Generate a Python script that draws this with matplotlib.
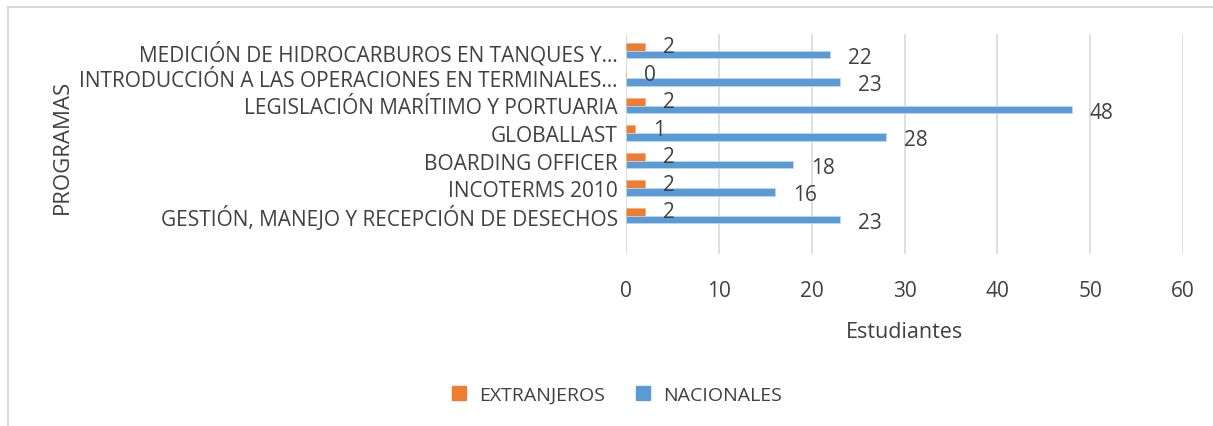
import matplotlib
matplotlib.use("Agg")
import matplotlib.pyplot as plt
from matplotlib.lines import Line2D
from matplotlib.patches import Patch
import numpy as np

# datos
programas = [
    "MEDICIÓN DE HIDROCARBUROS EN TANQUES Y…",
    "INTRODUCCIÓN A LAS OPERACIONES EN TERMINALES…",
    "LEGISLACIÓN MARÍTIMO Y PORTUARIA",
    "GLOBALLAST",
    "BOARDING OFFICER",
    "INCOTERMS 2010",
    "GESTIÓN, MANEJO Y RECEPCIÓN DE DESECHOS",
]
extranjeros = [2, 0, 2, 1, 2, 2, 2]
nacionales = [22, 23, 48, 28, 18, 16, 23]
x_ticks = [0, 10, 20, 30, 40, 50, 60]

TXT = "#404040"
plt.rcParams['font.family'] = ['Open Sans', 'DejaVu Sans']

fig = plt.figure(figsize=(12.13, 4.27), dpi=100)
ax = fig.add_axes([626 / 1213, 1 - 255 / 427, 557 / 1213, 220 / 427])

n = len(programas)
y = np.arange(n)
h = 0.28
ax.barh(y - h / 2, extranjeros, height=h, color="#ED7D31", edgecolor="#F4B183", linewidth=0.6)
ax.barh(y + h / 2, nacionales, height=h, color="#5B9BD5", edgecolor="#BDD7EE", linewidth=0.6)

# etiquetas de datos
for i in range(n):
    ax.annotate(str(extranjeros[i]), (extranjeros[i], y[i] - h / 2), xytext=(13, 0),
                textcoords="offset points", va="center", ha="left", fontsize=15, color=TXT)
    ax.annotate(str(nacionales[i]), (nacionales[i], y[i] + h / 2), xytext=(13, -2),
                textcoords="offset points", va="center", ha="left", fontsize=15, color=TXT)

ax.set_xlim(0, 60)
ax.set_ylim(n + 0.4, -0.6)
ax.set_xticks(x_ticks)
ax.set_yticks(y)
ax.set_yticklabels(programas)
ax.tick_params(axis="x", length=0, pad=19, labelsize=15, labelcolor=TXT)
ax.tick_params(axis="y", length=0, pad=6, labelsize=15, labelcolor=TXT)
ax.grid(axis="x", color="#D9D9D9", linewidth=1.2)
ax.set_axisbelow(True)
for s in ax.spines.values():
    s.set_visible(False)

ax.set_xlabel("Estudiantes", fontsize=15.5, color=TXT, labelpad=14)
fig.text(62 / 1213, 1 - 147 / 427, "PROGRAMAS", rotation=90, ha="center", va="center",
         fontsize=16, color=TXT)

handles = [Patch(color="#ED7D31"), Patch(color="#5B9BD5")]
fig.legend(handles, ["EXTRANJEROS", "NACIONALES"], loc="center", bbox_to_anchor=(617 / 1213, 1 - 396 / 427),
           ncol=2, frameon=False, fontsize=14, handlelength=0.7, handleheight=0.7,
           columnspacing=1.6, handletextpad=0.7, labelcolor=TXT)

# marco del gráfico
fig.add_artist(Line2D([8 / 1213, 1], [1 - 8 / 427, 1 - 8 / 427], color="#D9D9D9", linewidth=1.5))
fig.add_artist(Line2D([8 / 1213, 8 / 1213], [0, 1 - 8 / 427], color="#D9D9D9", linewidth=1.5))

fig.savefig("out.png", dpi=100, facecolor="white")
